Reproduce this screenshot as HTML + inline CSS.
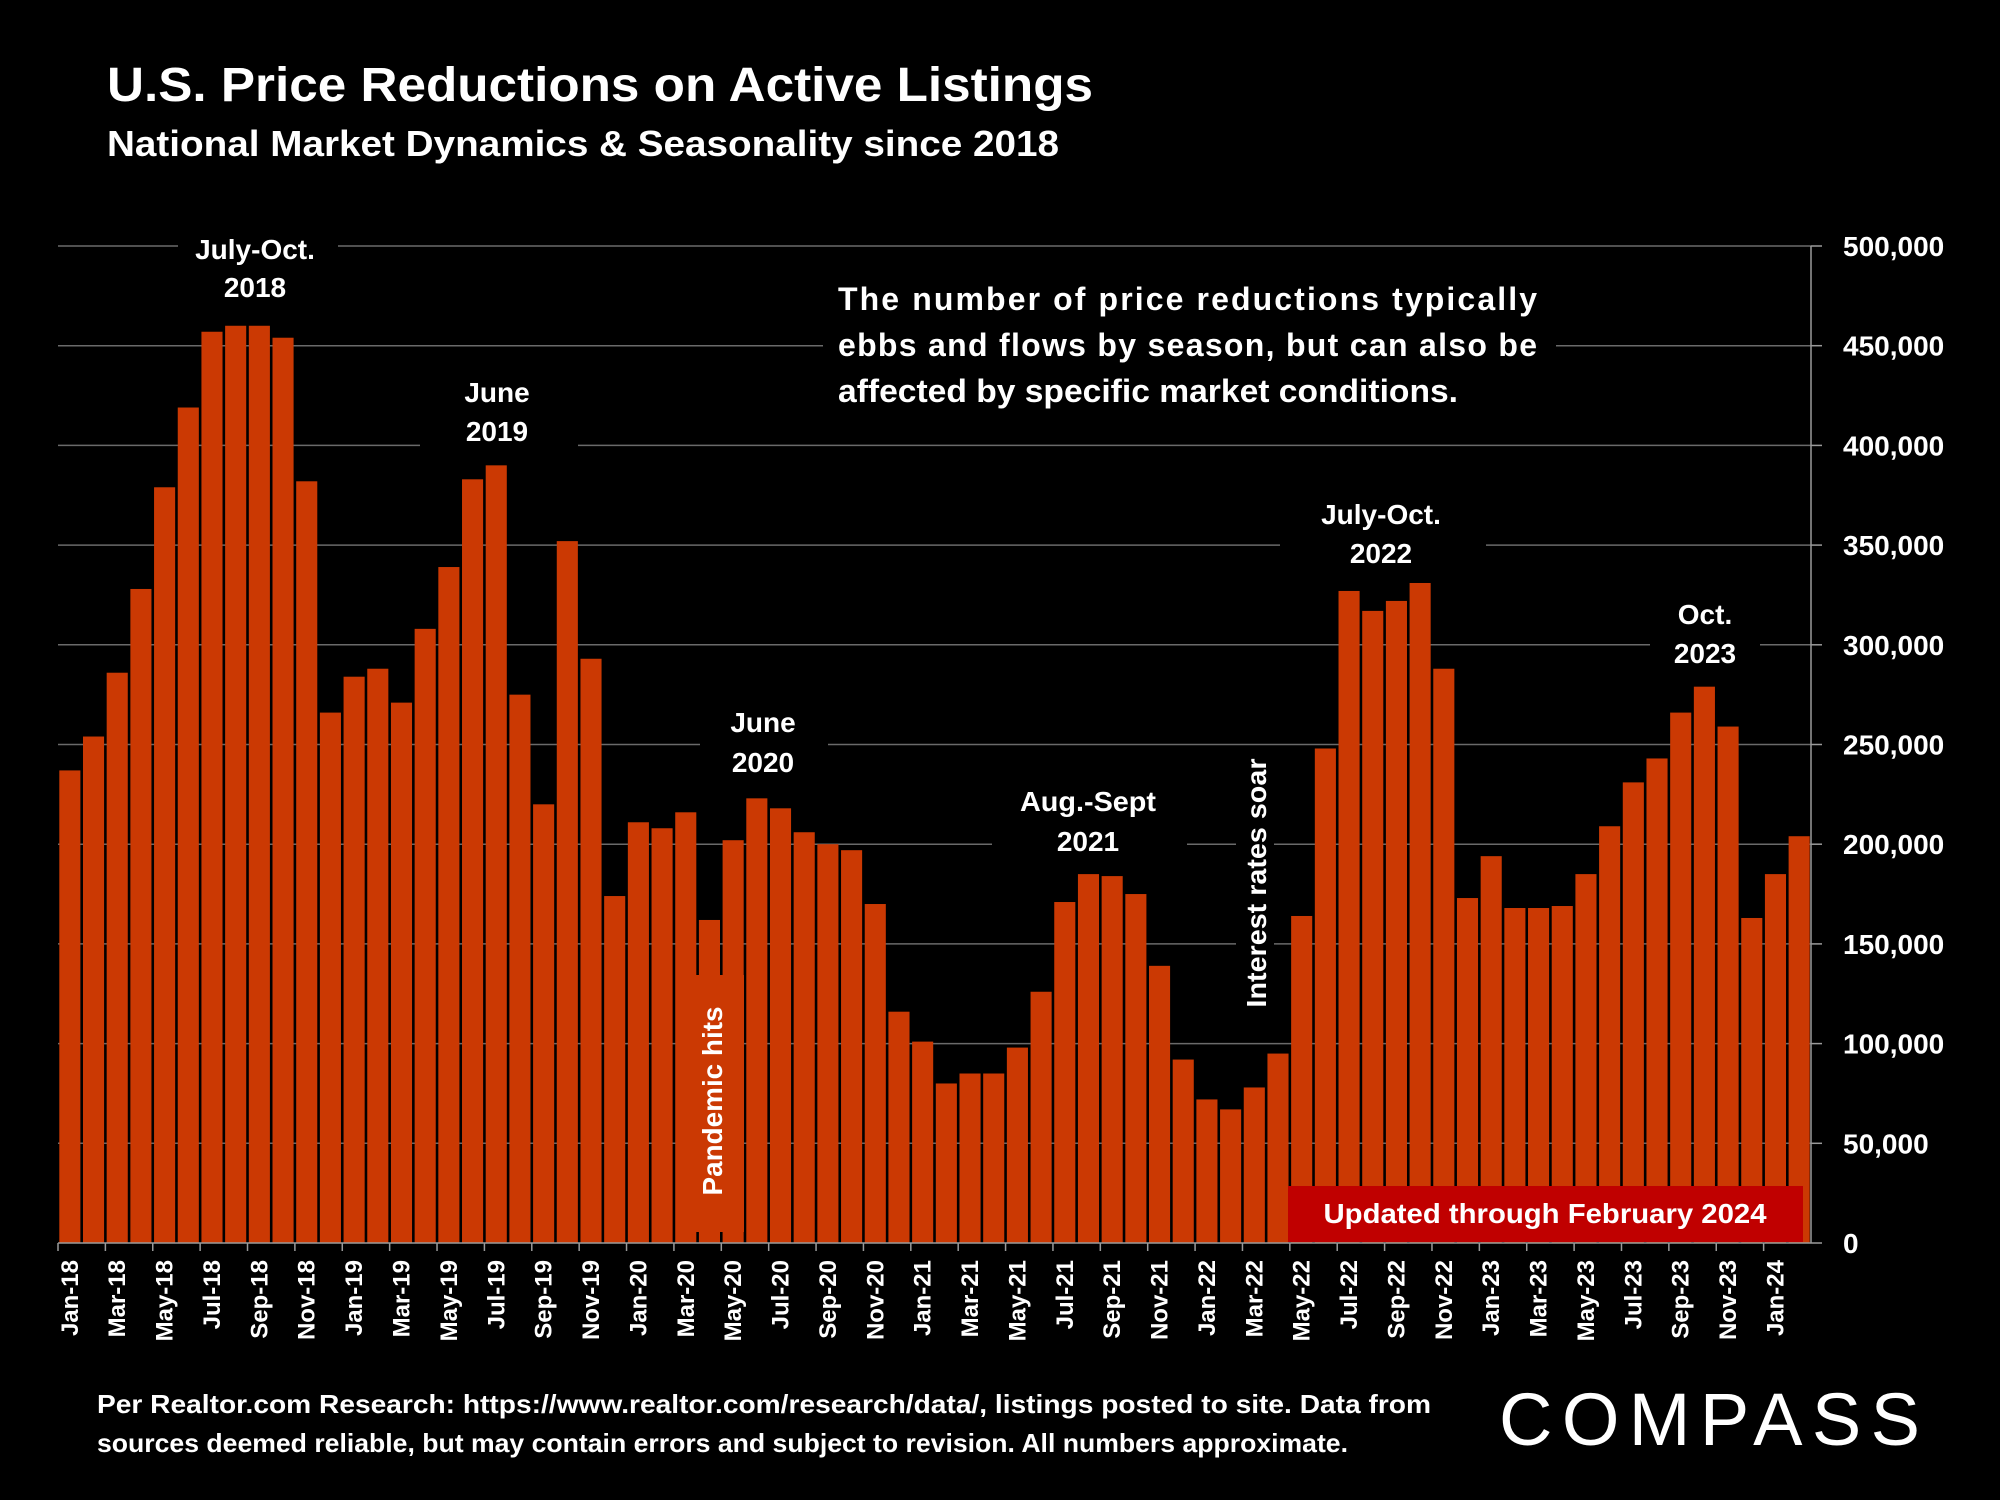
<!DOCTYPE html>
<html><head><meta charset="utf-8"><style>
html,body{margin:0;padding:0;background:#000;width:2000px;height:1500px;overflow:hidden}
svg{display:block}
text{font-family:"Liberation Sans",sans-serif;fill:#fff}
</style></head><body>
<svg id="chart" width="2000" height="1500" viewBox="0 0 2000 1500">
<rect x="0" y="0" width="2000" height="1500" fill="#000"/>
<text x="107" y="101" font-size="48" font-weight="bold" textLength="986" lengthAdjust="spacingAndGlyphs">U.S. Price Reductions on Active Listings</text>
<text x="107" y="156" font-size="36" font-weight="bold" textLength="952" lengthAdjust="spacingAndGlyphs">National Market Dynamics &amp; Seasonality since 2018</text>
<g id="grid"></g>
<g id="bars"></g>
<g id="axes"></g>
<g id="annots"></g>
</svg>
<script>
const categories = ["Jan-18","Feb-18","Mar-18","Apr-18","May-18","Jun-18","Jul-18","Aug-18","Sep-18","Oct-18","Nov-18","Dec-18",
"Jan-19","Feb-19","Mar-19","Apr-19","May-19","Jun-19","Jul-19","Aug-19","Sep-19","Oct-19","Nov-19","Dec-19",
"Jan-20","Feb-20","Mar-20","Apr-20","May-20","Jun-20","Jul-20","Aug-20","Sep-20","Oct-20","Nov-20","Dec-20",
"Jan-21","Feb-21","Mar-21","Apr-21","May-21","Jun-21","Jul-21","Aug-21","Sep-21","Oct-21","Nov-21","Dec-21",
"Jan-22","Feb-22","Mar-22","Apr-22","May-22","Jun-22","Jul-22","Aug-22","Sep-22","Oct-22","Nov-22","Dec-22",
"Jan-23","Feb-23","Mar-23","Apr-23","May-23","Jun-23","Jul-23","Aug-23","Sep-23","Oct-23","Nov-23","Dec-23",
"Jan-24","Feb-24"];
const priceReductions = [237000,254000,286000,328000,379000,419000,457000,460000,460000,454000,382000,266000,
284000,288000,271000,308000,339000,383000,390000,275000,220000,352000,293000,174000,
211000,208000,216000,162000,202000,223000,218000,206000,200000,197000,170000,116000,
101000,80000,85000,85000,98000,126000,171000,185000,184000,175000,139000,92000,
72000,67000,78000,95000,164000,248000,327000,317000,322000,331000,288000,173000,
194000,168000,168000,169000,185000,209000,231000,243000,266000,279000,259000,163000,
185000,204000];
const yTicks = [0,50000,100000,150000,200000,250000,300000,350000,400000,450000,500000];
const yTickLabels = ["0","50,000","100,000","150,000","200,000","250,000","300,000","350,000","400,000","450,000","500,000"];

const NS="http://www.w3.org/2000/svg";
const L=58, R=1811, BASE=1243, TOP=246, MAXV=500000;
const band=(R-L)/categories.length;
function yScale(v){return BASE-(v/MAXV)*(BASE-TOP);}
function xScale(i){return L+i*band;}
function mk(tag,attrs,parent){const e=document.createElementNS(NS,tag);for(const k in attrs)e.setAttribute(k,attrs[k]);parent.appendChild(e);return e;}

const grid=document.getElementById('grid'), bars=document.getElementById('bars'), axes=document.getElementById('axes');
yTicks.forEach((t,i)=>{
  const y=yScale(t);
  if(t>0){const g=mk('line',{x1:L,x2:R,y1:y,y2:y,stroke:'#6a6a6a','stroke-width':1.5},grid);
  
  }
  const tk=mk('line',{x1:R,x2:R+11,y1:y,y2:y,stroke:'#9a9a9a','stroke-width':1.5},axes);
  
  
  const lb=mk('text',{x:1843,y:y+10,'font-size':28,'font-weight':'bold'},axes);
  lb.textContent=yTickLabels[i];
  
  
});
const ya=mk('line',{x1:R,x2:R,y1:TOP,y2:BASE,stroke:'#9a9a9a','stroke-width':1.5},axes);


const xa=mk('line',{x1:L,x2:R,y1:BASE,y2:BASE,stroke:'#9a9a9a','stroke-width':1.5},axes);



priceReductions.forEach((v,i)=>{
  const y=yScale(v);
  const b=mk('rect',{x:xScale(i)+1.3,y:y,width:band-2.6,height:BASE-y,fill:'#cb3903'},bars);
  
  
  if(i%2===0){
    const tk=mk('line',{x1:xScale(i),x2:xScale(i),y1:BASE,y2:BASE+8,stroke:'#9a9a9a','stroke-width':1.5},axes);
    
    
    const cx=xScale(i)+band/2+8;
    const lb=mk('text',{x:cx,y:1260,'font-size':24,'font-weight':'bold','text-anchor':'end',transform:`rotate(-90 ${cx} 1260)`},axes);
    lb.textContent=categories[i];
    
    
  }
});
</script>
<svg style="position:absolute;left:0;top:0" width="2000" height="1500" viewBox="0 0 2000 1500">
<g>
<rect x="178" y="226" width="160" height="84" fill="#000"/>
<text x="255" y="259" font-size="28" font-weight="bold" text-anchor="middle">July-Oct.</text>
<text x="255" y="297" font-size="28" font-weight="bold" text-anchor="middle">2018</text>
</g>
<g>
<rect x="420" y="370" width="158" height="84" fill="#000"/>
<text x="497" y="402" font-size="28" font-weight="bold" text-anchor="middle">June</text>
<text x="497" y="441" font-size="28" font-weight="bold" text-anchor="middle">2019</text>
</g>
<g>
<rect x="700" y="700" width="128" height="84" fill="#000"/>
<text x="763" y="732" font-size="28" font-weight="bold" text-anchor="middle">June</text>
<text x="763" y="772" font-size="28" font-weight="bold" text-anchor="middle">2020</text>
</g>
<g>
<rect x="992" y="780" width="195" height="84" fill="#000"/>
<text x="1088" y="811" font-size="28" font-weight="bold" text-anchor="middle" textLength="136" lengthAdjust="spacingAndGlyphs">Aug.-Sept</text>
<text x="1088" y="851" font-size="28" font-weight="bold" text-anchor="middle">2021</text>
</g>
<g>
<rect x="1280" y="492" width="206" height="84" fill="#000"/>
<text x="1381" y="524" font-size="28" font-weight="bold" text-anchor="middle">July-Oct.</text>
<text x="1381" y="563" font-size="28" font-weight="bold" text-anchor="middle">2022</text>
</g>
<g>
<rect x="1650" y="594" width="110" height="80" fill="#000"/>
<text x="1705" y="624" font-size="28" font-weight="bold" text-anchor="middle">Oct.</text>
<text x="1705" y="663" font-size="28" font-weight="bold" text-anchor="middle">2023</text>
</g>
<g>
<rect x="823" y="272" width="733" height="150" fill="#000"/>
<text x="838" y="310" font-size="32" font-weight="bold" textLength="699" lengthAdjust="spacing">The number of price reductions typically</text>
<text x="838" y="356" font-size="32" font-weight="bold" textLength="699" lengthAdjust="spacing">ebbs and flows by season, but can also be</text>
<text x="838" y="402" font-size="32" font-weight="bold" textLength="620" lengthAdjust="spacingAndGlyphs">affected by specific market conditions.</text>
</g>
<g>
<rect x="692" y="975" width="52" height="257" fill="#cb3903"/>
<text x="722" y="1101" font-size="28" font-weight="bold" text-anchor="middle" transform="rotate(-90 722 1101)" textLength="189" lengthAdjust="spacingAndGlyphs">Pandemic hits</text>
</g>
<g>
<rect x="1236" y="750" width="38" height="262" fill="#000"/>
<text x="1266" y="883" font-size="28" font-weight="bold" text-anchor="middle" transform="rotate(-90 1266 883)" textLength="249" lengthAdjust="spacingAndGlyphs">Interest rates soar</text>
</g>
<g>
<rect x="1288" y="1186" width="515" height="56" fill="#c00000"/>
<text x="1545" y="1223" font-size="28" font-weight="bold" text-anchor="middle" textLength="443" lengthAdjust="spacingAndGlyphs">Updated through February 2024</text>
</g>
<text x="97" y="1413" font-size="26" font-weight="bold" textLength="1334" lengthAdjust="spacingAndGlyphs">Per Realtor.com Research:  https://www.realtor.com/research/data/, listings posted to site. Data from</text>
<text x="97" y="1452" font-size="26" font-weight="bold" textLength="1251" lengthAdjust="spacingAndGlyphs">sources deemed reliable, but may contain errors and subject to revision. All numbers approximate.</text>
<text x="1499" y="1445" font-size="74" textLength="421" lengthAdjust="spacing">COMPASS</text>
</svg>
</body></html>
